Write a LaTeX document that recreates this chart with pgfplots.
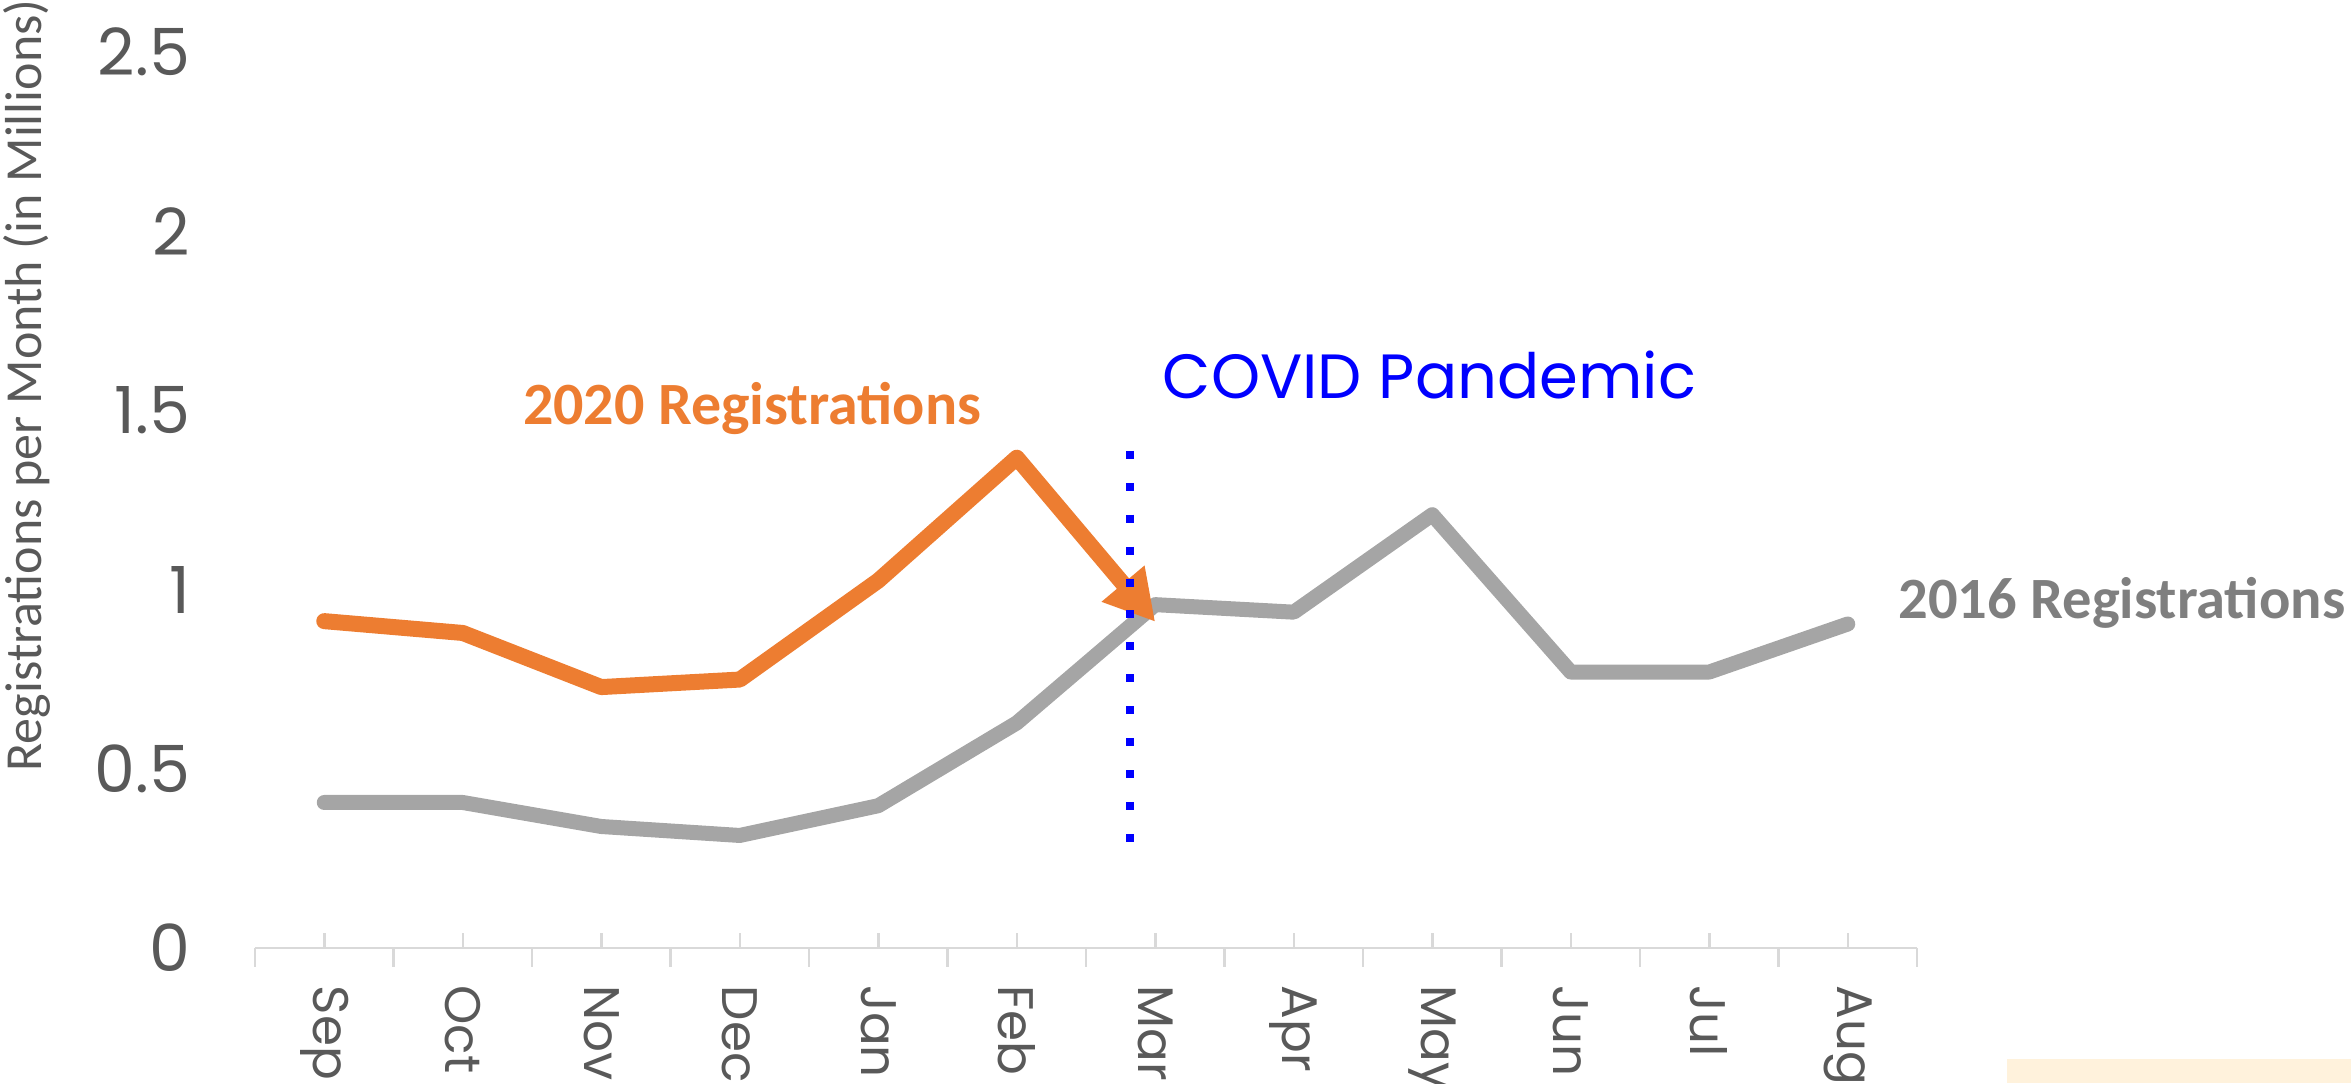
\documentclass[border=0pt]{standalone}
\usepackage{pgfplots}
\pgfplotsset{compat=1.18}
\usepackage{fontspec}
\usetikzlibrary{arrows.meta}
\newfontfamily\gothic{Poppins}
\newfontfamily\calib{Carlito}
\definecolor{orng}{HTML}{ED7D31}
\definecolor{lgray}{HTML}{A5A5A5}
\definecolor{tgray}{HTML}{7F7F7F}
\definecolor{lblgray}{HTML}{595959}
\definecolor{axgray}{HTML}{D9D9D9}
\definecolor{beige}{HTML}{FFF2DC}
\begin{document}
\begin{tikzpicture}
\begin{axis}[
  at={(51pt,27pt)}, anchor=south west,
  width=332.4pt, height=179.2pt, scale only axis,
  xmin=-0.5, xmax=11.5, ymin=0, ymax=2.5,
  axis x line=bottom, axis y line=left,
  x axis line style={-, draw=axgray, line width=0.5pt},
  y axis line style={draw=none},
  xtick={0,...,11},
  xticklabels={Sep,Oct,Nov,Dec,Jan,Feb,Mar,Apr,May,Jun,Jul,Aug},
  xtick align=inside,
  major x tick style={draw=axgray, line width=0.5pt},
  major tick length=3pt,
  extra x ticks={-0.5,0.5,...,11.5},
  extra x tick labels={},
  extra x tick style={xtick align=outside, major tick length=3.7pt, major x tick style={draw=axgray, line width=0.5pt}},
  xticklabel style={rotate=-90, anchor=west, font=\gothic\fontsize{10}{10}\selectfont, text=lblgray},
  xticklabel shift=4pt,
  ytick={0,0.5,1,1.5,2,2.5},
  yticklabels={0,0.5,1,1.5,2,2.5},
  ytick style={draw=none},
  yticklabel style={font=\gothic\fontsize{13}{13}\selectfont, text=lblgray, anchor=east},
  yticklabel shift=8pt,
  /pgf/number format/assume math mode=true,
  every axis y label/.style={at={(axis description cs:-0.137,0.196)}, rotate=90, anchor=west, inner sep=0pt, font=\calib\fontsize{10.4}{10.4}\selectfont, text=lblgray},
  ylabel={Registrations per Month (in Millions)},
  clip=false,
]
\addplot[lgray, line width=3pt, line cap=round, line join=round] coordinates {
 (0,0.406) (1,0.406) (2,0.339) (3,0.314) (4,0.397) (5,0.628) (6,0.958) (7,0.937) (8,1.209) (9,0.770) (10,0.770) (11,0.904)};
\addplot[orng, line width=3.2pt, line cap=round, line join=round, -{Triangle[width=10.5pt,length=10pt]}] coordinates {
 (0,0.912) (1,0.879) (2,0.728) (3,0.749) (4,1.025) (5,1.368) (6,0.91)};
\addplot[blue, line width=1.6pt, dash pattern=on 1.6pt off 4.783pt] coordinates {(5.82,1.387) (5.82,0.296)};
\node[font=\calib\bfseries\fontsize{12}{12}\selectfont, text=orng] at (axis cs:3.09,1.506) {2020 Registrations};
\node[font=\calib\bfseries\fontsize{11.7}{11.7}\selectfont, text=tgray, anchor=west, inner sep=0pt] at (axis cs:11.36,0.962) {2016 Registrations};
\node[font=\gothic\fontsize{12.5}{12.5}\selectfont, text=blue] at (axis cs:7.98,1.598) {COVID Pandemic};
\end{axis}
\fill[beige] (401.4pt,0pt) rectangle (470.2pt,4.8pt);
\pgfresetboundingbox
\path[use as bounding box] (0pt,0pt) rectangle (470.2pt,216.6pt);
\end{tikzpicture}
\end{document}
